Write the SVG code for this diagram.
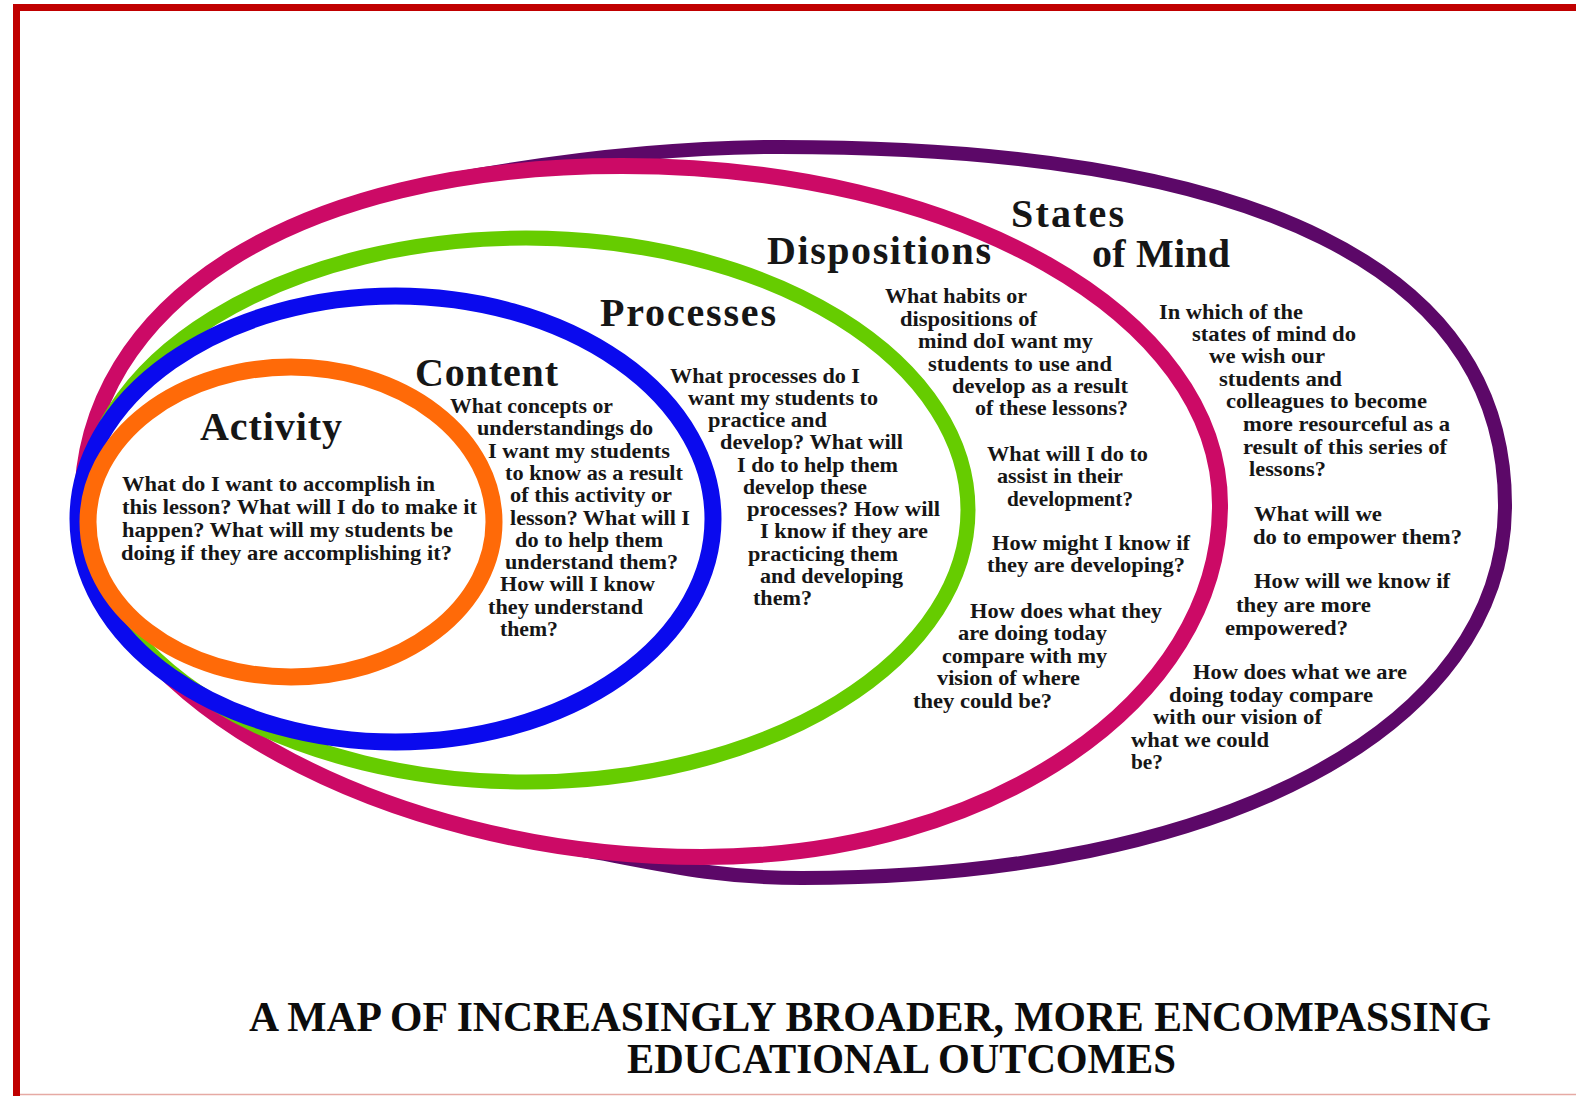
<svg xmlns="http://www.w3.org/2000/svg" width="1576" height="1096" viewBox="0 0 1576 1096">
<style>
.ring{fill:none}
.h{font-family:"Liberation Serif","Times New Roman",serif;font-weight:bold;font-size:40px;fill:#161616}
.b{font-family:"Liberation Serif","Times New Roman",serif;font-weight:bold;font-size:21px;fill:#161616}
.t{font-family:"Liberation Serif","Times New Roman",serif;font-weight:bold;font-size:42px;fill:#0c0c0c}
</style>
<rect x="0" y="0" width="1576" height="1096" fill="#ffffff"/>
<g id="frame">
<rect x="13" y="4" width="1563" height="7" fill="#c00000"/>
<rect x="13" y="4" width="7" height="1092" fill="#c00000"/>
<line x1="20" y1="1094.5" x2="1576" y2="1094.5" stroke="#e6aaa4" stroke-width="1.5"/>
</g>
<g id="connectors"></g>
<g id="states-of-mind">
<path class="ring" stroke="#5c0868" stroke-width="14" d="M441,181.7 C520,167 650,147 780,147 C1258,147 1505,269 1505,505 C1505,728 1222,878 802,878 C700,878 638,858 559.3,846.1 C296.6,806 82,660.55 82,505 C82,342.6 219.6,223.1 441,181.7 Z"/>
<text class="h" x="1011" y="227" textLength="113">States</text>
<text class="h" x="1092" y="267" textLength="138">of Mind</text>
<text class="b" lengthAdjust="spacingAndGlyphs" x="1159" y="319" textLength="144">In which of the</text>
<text class="b" lengthAdjust="spacingAndGlyphs" x="1192" y="341" textLength="164">states of mind do</text>
<text class="b" lengthAdjust="spacingAndGlyphs" x="1209" y="363" textLength="116">we wish our</text>
<text class="b" lengthAdjust="spacingAndGlyphs" x="1219" y="386" textLength="123">students and</text>
<text class="b" lengthAdjust="spacingAndGlyphs" x="1226" y="408" textLength="201">colleagues to become</text>
<text class="b" lengthAdjust="spacingAndGlyphs" x="1243" y="431" textLength="207">more resourceful as a</text>
<text class="b" lengthAdjust="spacingAndGlyphs" x="1243" y="454" textLength="204">result of this series of</text>
<text class="b" lengthAdjust="spacingAndGlyphs" x="1249" y="476" textLength="77">lessons?</text>
<text class="b" lengthAdjust="spacingAndGlyphs" x="1254" y="521" textLength="128">What will we</text>
<text class="b" lengthAdjust="spacingAndGlyphs" x="1253" y="544" textLength="209">do to empower them?</text>
<text class="b" lengthAdjust="spacingAndGlyphs" x="1254" y="588" textLength="196">How will we know if</text>
<text class="b" lengthAdjust="spacingAndGlyphs" x="1236" y="612" textLength="135">they are more</text>
<text class="b" lengthAdjust="spacingAndGlyphs" x="1225" y="635" textLength="123">empowered?</text>
<text class="b" lengthAdjust="spacingAndGlyphs" x="1193" y="679" textLength="214">How does what we are</text>
<text class="b" lengthAdjust="spacingAndGlyphs" x="1169" y="702" textLength="204">doing today compare</text>
<text class="b" lengthAdjust="spacingAndGlyphs" x="1153" y="724" textLength="169">with our vision of</text>
<text class="b" lengthAdjust="spacingAndGlyphs" x="1131" y="747" textLength="138">what we could</text>
<text class="b" lengthAdjust="spacingAndGlyphs" x="1131" y="769" textLength="32">be?</text>
</g>
<g id="dispositions">
<path class="ring" stroke="#cc0a66" stroke-width="16" d="M82,505 C82,302 297,166 622,166 C958,166 1220,315 1220,505 C1220,702 990,857 702,857 C379,857 82,688 82,505 Z"/>
<text class="h" x="767" y="264" textLength="224">Dispositions</text>
<text class="b" lengthAdjust="spacingAndGlyphs" x="885" y="303" textLength="142">What habits or</text>
<text class="b" lengthAdjust="spacingAndGlyphs" x="900" y="326" textLength="137">dispositions of</text>
<text class="b" lengthAdjust="spacingAndGlyphs" x="918" y="348" textLength="175">mind doI want my</text>
<text class="b" lengthAdjust="spacingAndGlyphs" x="928" y="371" textLength="184">students to use and</text>
<text class="b" lengthAdjust="spacingAndGlyphs" x="952" y="393" textLength="176">develop as a result</text>
<text class="b" lengthAdjust="spacingAndGlyphs" x="975" y="415" textLength="153">of these lessons?</text>
<text class="b" lengthAdjust="spacingAndGlyphs" x="987" y="461" textLength="161">What will I do to</text>
<text class="b" lengthAdjust="spacingAndGlyphs" x="997" y="483" textLength="126">assist in their</text>
<text class="b" lengthAdjust="spacingAndGlyphs" x="1007" y="506" textLength="126">development?</text>
<text class="b" lengthAdjust="spacingAndGlyphs" x="992" y="550" textLength="198">How might I know if</text>
<text class="b" lengthAdjust="spacingAndGlyphs" x="987" y="572" textLength="198">they are developing?</text>
<text class="b" lengthAdjust="spacingAndGlyphs" x="970" y="618" textLength="192">How does what they</text>
<text class="b" lengthAdjust="spacingAndGlyphs" x="958" y="640" textLength="149">are doing today</text>
<text class="b" lengthAdjust="spacingAndGlyphs" x="942" y="663" textLength="165">compare with my</text>
<text class="b" lengthAdjust="spacingAndGlyphs" x="937" y="685" textLength="143">vision of where</text>
<text class="b" lengthAdjust="spacingAndGlyphs" x="913" y="708" textLength="139">they could be?</text>
</g>
<g id="processes">
<ellipse class="ring" stroke="#66cc00" stroke-width="15" cx="526" cy="510" rx="442" ry="272"/>
<text class="h" x="600" y="326" textLength="176">Processes</text>
<text class="b" lengthAdjust="spacingAndGlyphs" x="670" y="383" textLength="190">What processes do I</text>
<text class="b" lengthAdjust="spacingAndGlyphs" x="688" y="405" textLength="190">want my students to</text>
<text class="b" lengthAdjust="spacingAndGlyphs" x="708" y="427" textLength="119">practice and</text>
<text class="b" lengthAdjust="spacingAndGlyphs" x="720" y="449" textLength="183">develop? What will</text>
<text class="b" lengthAdjust="spacingAndGlyphs" x="737" y="472" textLength="161">I do to help them</text>
<text class="b" lengthAdjust="spacingAndGlyphs" x="743" y="494" textLength="124">develop these</text>
<text class="b" lengthAdjust="spacingAndGlyphs" x="747" y="516" textLength="193">processes? How will</text>
<text class="b" lengthAdjust="spacingAndGlyphs" x="760" y="538" textLength="168">I know if they are</text>
<text class="b" lengthAdjust="spacingAndGlyphs" x="748" y="561" textLength="150">practicing them</text>
<text class="b" lengthAdjust="spacingAndGlyphs" x="760" y="583" textLength="143">and developing</text>
<text class="b" lengthAdjust="spacingAndGlyphs" x="753" y="605" textLength="59">them?</text>
</g>
<g id="content">
<ellipse class="ring" stroke="#0a0aee" stroke-width="17" cx="395.5" cy="519" rx="317.5" ry="223"/>
<text class="h" x="415" y="386" textLength="143">Content</text>
<text class="b" lengthAdjust="spacingAndGlyphs" x="450" y="413" textLength="163">What concepts or</text>
<text class="b" lengthAdjust="spacingAndGlyphs" x="477" y="435" textLength="176">understandings do</text>
<text class="b" lengthAdjust="spacingAndGlyphs" x="488" y="458" textLength="182">I want my students</text>
<text class="b" lengthAdjust="spacingAndGlyphs" x="505" y="480" textLength="178">to know as a result</text>
<text class="b" lengthAdjust="spacingAndGlyphs" x="510" y="502" textLength="162">of this activity or</text>
<text class="b" lengthAdjust="spacingAndGlyphs" x="510" y="525" textLength="180">lesson? What will I</text>
<text class="b" lengthAdjust="spacingAndGlyphs" x="515" y="547" textLength="148">do to help them</text>
<text class="b" lengthAdjust="spacingAndGlyphs" x="505" y="569" textLength="173">understand them?</text>
<text class="b" lengthAdjust="spacingAndGlyphs" x="500" y="591" textLength="155">How will I know</text>
<text class="b" lengthAdjust="spacingAndGlyphs" x="488" y="614" textLength="155">they understand</text>
<text class="b" lengthAdjust="spacingAndGlyphs" x="500" y="636" textLength="58">them?</text>
</g>
<g id="activity">
<ellipse class="ring" stroke="#ff6a08" stroke-width="17" cx="291" cy="522" rx="203" ry="155"/>
<text class="h" x="200" y="440" textLength="142">Activity</text>
<text class="b" lengthAdjust="spacingAndGlyphs" x="122" y="491" textLength="313">What do I want to accomplish in</text>
<text class="b" lengthAdjust="spacingAndGlyphs" x="122" y="514" textLength="355">this lesson? What will I do to make it</text>
<text class="b" lengthAdjust="spacingAndGlyphs" x="122" y="537" textLength="331">happen? What will my students be</text>
<text class="b" lengthAdjust="spacingAndGlyphs" x="121" y="560" textLength="331">doing if they are accomplishing it?</text>
</g>
<g id="title">
<text class="t" lengthAdjust="spacingAndGlyphs" x="249" y="1031" textLength="1242">A MAP OF INCREASINGLY BROADER, MORE ENCOMPASSING</text>
<text class="t" lengthAdjust="spacingAndGlyphs" x="627" y="1073" textLength="549">EDUCATIONAL OUTCOMES</text>
</g>
</svg>
